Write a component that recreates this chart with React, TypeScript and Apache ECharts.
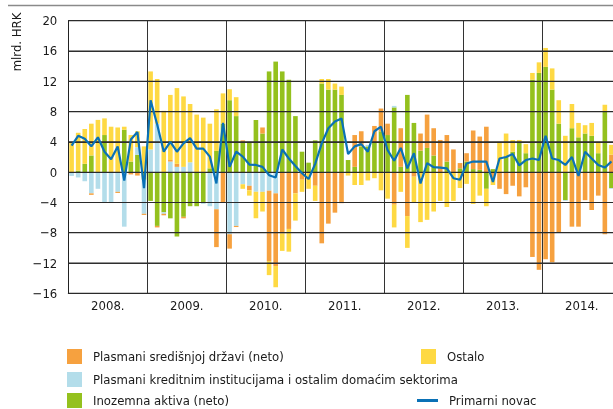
import React, { useEffect, useRef } from "react";
import * as echarts from "echarts";

const years = ["2008.", "2009.", "2010.", "2011.", "2012.", "2013.", "2014."];
const monthCodes = ["01", "02", "03", "04", "05", "06", "07", "08", "09", "10", "11", "12"];
const months = years.flatMap((y) => monthCodes.map((m) => y.replace(".", "") + "-" + m));

const yTicks = [-16, -12, -8, -4, 0, 4, 8, 12, 16, 20];

// Inozemna aktiva (neto)
const foreignAssets = [
  0, 0.2, 1.1, 2.2, 0, 4.9, 0, 0, 5.6, 1.4, 2.3, -1.0,
  -3.8, -7.1, -5.3, -6.1, -8.5, -5.9, -4.5, -4.5, -4.1, 0.5, 2.8, 6.4,
  9.5, 7.4, 4.0, 4.0, 6.9, 5.1, 13.3, 14.6, 13.3, 12.2, 7.4, 2.7,
  1.25, 4.2, 11.7, 10.9, 10.9, 10.2, 1.6, 0.7, 3.4, 3.4, 3.9, 5.4,
  4.9, 8.55, 0.7, 10.2, 6.5, 2.85, 3.2, 2.2, 0, 1.4, 0, 0.5,
  1.4, 0.4, 0.3, -2.2, 0.4, 0, 2.0, 2.7, 3.9, 2.5, 12.2, 13.1,
  13.9, 10.9, 6.4, -3.7, 5.8, 4.6, 5.1, 4.8, 2.5, 8.0, -2.1, null,
];
// Plasmani kreditnim institucijama i ostalim domaćim sektorima
const creditInstitutions = [
  -0.5, -0.7, -1.2, -2.8, -2.2, -4.0, -4.0, -2.6, -7.2, 0, 1.0, -4.5,
  3.0, 6.4, -0.2, 1.4, 0.7, 0.7, 1.3, 0, -0.1, -4.5, -4.9, 0,
  -8.2, -7.1, -1.6, -1.8, -2.6, -2.6, -2.45, -2.8, 0, 0, 0, 0,
  0, 0, 0, 0, 0, 0, 0, 0, 0, 0.2, 0, 0,
  0, 0.2, 0, 0, 0, 0, 0, 0, 0, 0, 0, 0,
  0, 0, 0, 0, 0, 0, 0, 0, 0, 0, 0, 0,
  0, 0, 0, -0.1, 0, 0, 0, 0, 0, 0, -0.1, null,
];
// Plasmani središnjoj državi (neto)
const centralGovernment = [
  0, 0, 0, -0.2, 0, 0, 0, -0.15, 0, -0.3, -0.45, -0.15,
  0, -0.2, -0.2, 0.2, 0.4, -0.2, 0, 0, 0, 0, -5.0, -4.0,
  -1.9, -0.15, 0.2, -0.6, 0, 0.8, -9.3, -9.6, -8.1, -7.5, -2.8, -1.0,
  0, -1.8, -9.4, -6.8, -5.35, -4.1, 0, 4.2, 2.0, 0, 2.2, 3.0,
  1.5, -4.3, 5.1, -5.8, -0.6, 2.25, 4.4, 3.6, 4.25, 3.5, 3.0, 0.7,
  1.1, 5.1, 4.4, 6.0, -1.0, -2.2, -2.9, -1.8, -3.2, -2.0, -11.2, -12.9,
  -11.5, -11.9, -8.0, 0, -7.2, -7.2, -3.7, -5.0, -3.1, -8.2, 2.3, null,
];
// Ostalo
const other = [
  4.0, 5.0, 4.6, 4.2, 6.9, 2.2, 6.0, 5.9, 0.4, 3.5, 2.1, 3.4,
  10.3, 5.9, 8.1, 8.6, 10.0, 9.3, 7.7, 7.6, 7.2, 5.9, 5.5, 4.0,
  1.45, 2.5, -0.6, -0.7, -3.5, -2.6, -1.85, -2.8, -2.3, -3.0, -3.6, -1.6,
  -2.2, -2.0, 0.6, 1.4, 0.8, 1.1, -0.45, -1.7, -1.7, -1.1, -0.8, -2.4,
  -3.5, -3.0, -2.6, -4.2, -3.4, -6.6, -6.3, -5.2, -3.8, -4.6, -3.8, -2.1,
  -1.55, -4.2, -3.1, -2.3, -0.7, 4.0, 3.1, 1.55, 0.35, 1.2, 0.9, 1.4,
  2.5, 2.8, 3.1, 4.8, 3.2, 1.9, 1.1, 1.7, 1.5, 0.9, 1.3, null,
];
// Primarni novac
const primaryMoney = [
  3.5, 4.8, 4.4, 3.4, 4.6, 2.7, 1.7, 3.4, -1.1, 4.3, 5.3, -2.1,
  9.5, 6.3, 2.7, 4.0, 2.7, 3.8, 4.5, 3.1, 3.1, 2.05, -1.5, 6.5,
  0.7, 2.7, 2.05, 1.0, 0.95, 0.7, -0.4, -0.7, 3.0, 1.8, 0.8, -0.15,
  -0.9, 1.1, 3.8, 5.8, 6.7, 7.1, 2.4, 3.4, 3.7, 2.7, 5.4, 6.0,
  2.9, 1.5, 3.2, 0.5, 2.5, -1.5, 1.2, 0.65, 0.6, 0.5, -0.8, -1.0,
  1.15, 1.4, 1.4, 1.4, -1.3, 1.8, 2.0, 2.4, 0.9, 1.6, 1.8, 1.6,
  4.8, 1.8, 1.6, 0.95, 2.0, -0.5, 2.7, 1.8, 0.95, 0.6, 1.4, null,
];

const NAME_CG = "Plasmani središnjoj državi (neto)";
const NAME_CI = "Plasmani kreditnim institucijama i ostalim domaćim sektorima";
const NAME_FA = "Inozemna aktiva (neto)";
const NAME_OT = "Ostalo";
const NAME_PM = "Primarni novac";

const C_ORANGE = "#F6A13F";
const C_BLUE = "#B3DDEA";
const C_GREEN = "#94C11E";
const C_YELLOW = "#FED943";
const C_LINE = "#0A71B6";

const FONT = "'Liberation Sans Narrow', 'Arial Narrow', 'DejaVu Sans Condensed', sans-serif";
const TXT = "#1a1a1a";

const GRID_LEFT = 68.3;
const GRID_TOP = 20.7;
const GRID_WIDTH = 553;
const GRID_HEIGHT = 272.6;

export default function App() {
  const ref = useRef<HTMLDivElement>(null);
  useEffect(() => {
    if (!ref.current) return;
    const chart = echarts.init(ref.current, undefined, { renderer: "svg" });
    const legendText = { fontSize: 13, color: TXT, fontFamily: FONT, padding: [0, 0, 0, 6] };
    const mkLegend = (name: string, left: number, top: number, w = 15, h = 15) => ({
      data: [name],
      left,
      top,
      orient: "horizontal",
      icon: "rect",
      itemWidth: w,
      itemHeight: h,
      padding: 0,
      selectedMode: false,
      textStyle: legendText,
    });
    const barBase = {
      type: "bar",
      stack: "total",
      barWidth: "70%",
      xAxisIndex: 0,
      yAxisIndex: 0,
      z: 2,
    };
    chart.setOption({
      animation: false,
      textStyle: { fontFamily: FONT },
      grid: { left: GRID_LEFT, top: GRID_TOP, width: GRID_WIDTH, height: GRID_HEIGHT, containLabel: false },
      legend: [
        mkLegend(NAME_CG, 67, 349),
        mkLegend(NAME_CI, 67, 372),
        mkLegend(NAME_FA, 67, 393),
        mkLegend(NAME_OT, 421, 349),
        mkLegend(NAME_PM, 417, 394, 21, 3),
      ],
      xAxis: [
        {
          type: "category",
          data: months,
          show: false,
          boundaryGap: true,
        },
        {
          type: "category",
          data: years,
          position: "bottom",
          boundaryGap: true,
          axisLine: { show: true, onZero: false, lineStyle: { color: "#222", width: 1 } },
          axisTick: { show: false },
          axisLabel: { show: true, color: TXT, fontSize: 13, margin: 6, fontFamily: FONT },
          splitLine: { show: true, interval: 0, lineStyle: { color: "#333", width: 1 } },
        },
      ],
      yAxis: {
        type: "value",
        min: -16,
        max: 20,
        interval: 4,
        z: 3,
        axisLine: { show: true, lineStyle: { color: "#222", width: 1 } },
        axisTick: { show: true, length: 0, lineStyle: { color: "#222" } },
        splitLine: { show: true, lineStyle: { color: "#333", width: 1, opacity: 1 } },
        axisLabel: {
          color: TXT,
          fontSize: 13,
          margin: 11,
          fontFamily: FONT,
          formatter: (v: number) => String(v).replace("-", "\u2212"),
        },
      },
      graphic: [
        {
          id: "toprule",
          type: "rect",
          shape: { x: 8, y: 4.8, width: 605, height: 1.4 },
          style: { fill: "#8a8a8a" },
          silent: true,
        },
        {
          id: "yname",
          type: "text",
          x: 16,
          y: 42,
          rotation: Math.PI / 2,
          style: {
            text: "mlrd. HRK",
            fontSize: 13,
            fill: TXT,
            fontFamily: FONT,
            align: "center",
            verticalAlign: "middle",
          },
          silent: true,
        },
      ],
      series: [
        { ...barBase, name: NAME_FA, data: foreignAssets, itemStyle: { color: C_GREEN } },
        { ...barBase, name: NAME_CI, data: creditInstitutions, itemStyle: { color: C_BLUE } },
        { ...barBase, name: NAME_CG, data: centralGovernment, itemStyle: { color: C_ORANGE } },
        { ...barBase, name: NAME_OT, data: other, itemStyle: { color: C_YELLOW } },
        {
          type: "line",
          name: NAME_PM,
          data: primaryMoney,
          z: 6,
          symbol: "none",
          showSymbol: false,
          lineStyle: { color: C_LINE, width: 2.2 },
          itemStyle: { color: C_LINE },
        },
      ],
    });
    // horizontal gridlines drawn over the bars, positioned by the y axis scale
    try {
      const gridLines = yTicks.map((v, i) => {
        let py = NaN;
        try {
          const p: any = chart.convertToPixel({ yAxisIndex: 0 }, v);
          py = typeof p === "number" ? p : Array.isArray(p) ? p[1] : NaN;
        } catch (e) {
          py = NaN;
        }
        if (!isFinite(py)) py = GRID_TOP + ((20 - v) / 36) * GRID_HEIGHT;
        return {
          id: "gl" + i,
          type: "rect",
          z: 4,
          silent: true,
          shape: { x: GRID_LEFT, y: py - 0.5, width: GRID_WIDTH, height: 1.1 },
          style: { fill: "#2a2a2a" },
        };
      });
      chart.setOption({ graphic: gridLines });
    } catch (e) {
      // keep the chart as drawn
    }
    return () => chart.dispose();
  }, []);
  return (
    <div style={{ position: "fixed", left: 0, top: 0, width: 613, height: 409, overflow: "hidden" }}>
      <div ref={ref} style={{ width: 624, height: 409 }} />
    </div>
  );
}
